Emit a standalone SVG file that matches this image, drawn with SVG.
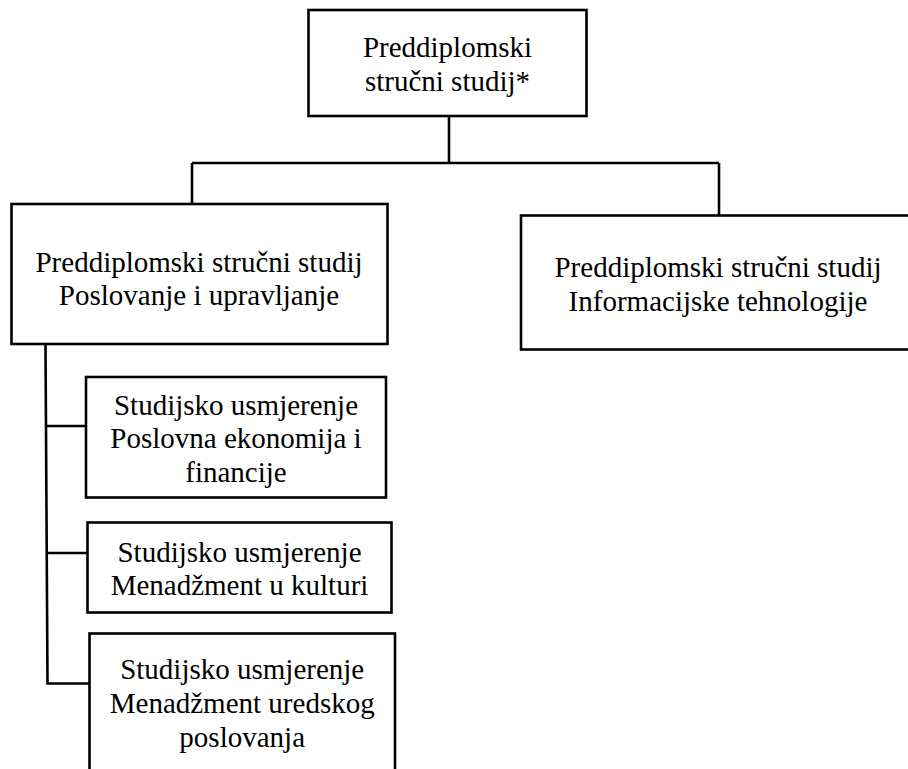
<svg xmlns="http://www.w3.org/2000/svg" width="908" height="769" viewBox="0 0 908 769">
<style>
rect{fill:#fff;stroke:#000;stroke-width:2.6}
.c{fill:none;stroke:#000;stroke-width:2.6}
text{font-family:"Liberation Serif","Times New Roman",serif;font-size:29px;fill:#000;text-anchor:middle}
</style>
<rect x="0" y="0" width="908" height="769" style="stroke:none"/>
<g id="connectors">
<path class="c" d="M449,116V163M192,163H719M192,163V204M719,163V215.5"/>
<path class="c" d="M45.5,344L47.5,683.5H89.5M46,426H86M47,553H87.5"/>
</g>
<g id="root">
<rect x="308.5" y="10" width="278" height="106"/>
<text x="447.5" y="57">Preddiplomski</text>
<text x="447.5" y="90.5">stručni studij*</text>
</g>
<g id="pu">
<rect x="11.5" y="204" width="376" height="140"/>
<text x="199" y="271.5">Preddiplomski stručni studij</text>
<text x="199" y="305">Poslovanje i upravljanje</text>
</g>
<g id="it">
<rect x="521" y="215.5" width="400" height="134"/>
<text x="718" y="277">Preddiplomski stručni studij</text>
<text x="718" y="310.5">Informacijske tehnologije</text>
</g>
<g id="pef">
<rect x="86" y="377" width="300" height="120.5"/>
<text x="236" y="415">Studijsko usmjerenje</text>
<text x="236" y="448.3">Poslovna ekonomija i</text>
<text x="236" y="481.7">financije</text>
</g>
<g id="muk">
<rect x="87.5" y="522.5" width="304" height="90"/>
<text x="239.5" y="561.5">Studijsko usmjerenje</text>
<text x="239.5" y="595">Menadžment u kulturi</text>
</g>
<g id="mup">
<rect x="89.5" y="633.5" width="305.5" height="200"/>
<text x="242.2" y="679">Studijsko usmjerenje</text>
<text x="242.2" y="713.3">Menadžment uredskog</text>
<text x="242.2" y="746.7">poslovanja</text>
</g>
</svg>
